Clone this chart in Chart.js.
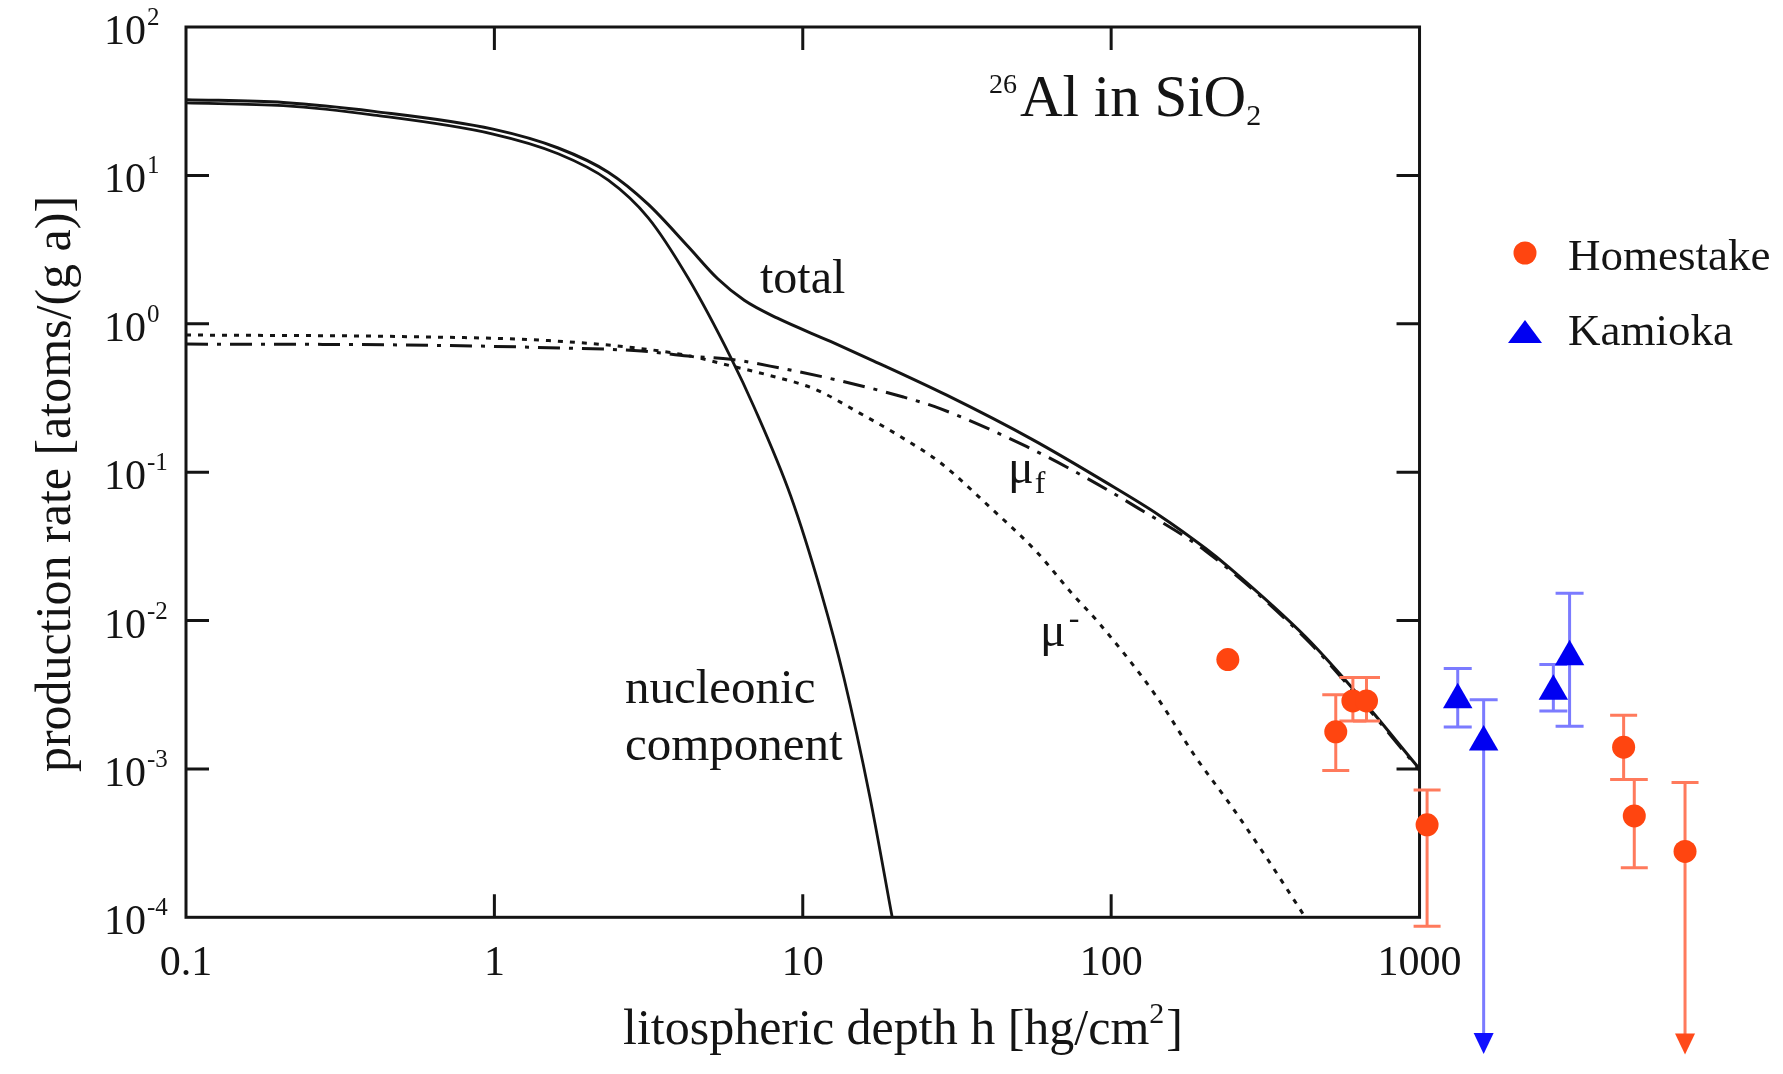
<!DOCTYPE html>
<html>
<head>
<meta charset="utf-8">
<title>26Al in SiO2</title>
<script src="https://cdn.jsdelivr.net/npm/chart.js@4.4.1/dist/chart.umd.min.js"></script>
<style>
html, body { margin: 0; padding: 0; background: #fff; }
#wrap { width: 1783px; height: 1074px; }
</style>
</head>
<body>
<div id="wrap"><canvas id="myChart" width="1783" height="1074"></canvas></div>
<script>
// axes: litospheric depth [hg/cm2] / production rate [atoms/(g a)]
const depthTicks = [0.1, 1, 10, 100, 1000];
const depthTickLabels = ['0.1', '1', '10', '100', '1000'];
const rateTicks = [1e2, 1e1, 1e0, 1e-1, 1e-2, 1e-3, 1e-4];
const rateTickExp = ['2', '1', '0', '-1', '-2', '-3', '-4'];

// total
const depthTotal = [0.1, 0.207, 0.407, 0.99, 1.61, 2.34, 3.15, 4.24, 5.3, 6.46, 8.28, 12.3, 17.0, 29.3, 55.8, 96.2, 143, 202, 240, 426, 602, 1000];
const rateTotal  = [32.4, 31, 27, 20.5, 15.3, 10.5, 6.4, 3.33, 2.01, 1.44, 1.09, 0.76, 0.561, 0.33, 0.165, 0.0853, 0.0513, 0.0307, 0.0230, 7.8e-3, 3.55e-3, 1.0e-3];

// nucleonic component
const depthNuc = [0.1, 0.207, 0.407, 0.99, 1.61, 2.34, 3.15, 4.24, 5.85, 6.95, 9.14, 11.5, 13.6, 16.5, 19.5];
const rateNuc  = [30.8, 29.5, 25.5, 19.0, 14.0, 9.3, 5.2, 2.05, 0.59, 0.275, 0.069, 0.0152, 4.1e-3, 6.5e-4, 1.0e-4];

// negative muon capture (mu-)
const depthMuNeg = [0.1, 0.5, 1.5, 3.0, 4.24, 5.85, 7.85, 10.9, 15.4, 20.7, 27.9, 40.4, 57.1, 75.1, 91.5, 139.6, 188, 247, 316, 426];
const rateMuNeg  = [0.84, 0.82, 0.77, 0.68, 0.61, 0.52, 0.447, 0.364, 0.248, 0.174, 0.116, 0.0582, 0.0293, 0.0150, 9.57e-3, 3.12e-3, 1.2e-3, 5.5e-4, 2.6e-4, 1.0e-4];

// fast muons (mu_f)
const depthMuF = [0.1, 0.5, 1.5, 3.0, 4.24, 5.85, 8.28, 13.2, 21.2, 27.9, 53.1, 80.9, 123, 202, 426, 602, 1000];
const rateMuF  = [0.73, 0.72, 0.69, 0.655, 0.606, 0.576, 0.507, 0.413, 0.321, 0.268, 0.149, 0.0944, 0.0568, 0.0295, 7.6e-3, 3.45e-3, 0.98e-3];

// Homestake
const homeDepth = [239, 535, 608, 673, 1058, 4590, 4970, 7260];
const homeRate  = [5.46e-3, 1.78e-3, 2.87e-3, 2.87e-3, 4.2e-4, 1.40e-3, 4.82e-4, 2.78e-4];
const homeHi    = [null, 3.16e-3, 4.13e-3, 4.13e-3, 7.2e-4, 2.30e-3, 8.47e-4, 8.1e-4];
const homeLo    = [null, 9.77e-4, 2.10e-3, 2.10e-3, 8.7e-5, 8.5e-4, 2.16e-4, 1.19e-5];
const homeLimit = [false, false, false, false, false, false, false, true];

// Kamioka
const kamDepth = [1330, 1614, 2716, 3066];
const kamRate  = [2.92e-3, 1.52e-3, 3.34e-3, 5.70e-3];
const kamHi    = [4.75e-3, 2.93e-3, 5.06e-3, 1.53e-2];
const kamLo    = [1.92e-3, 1.2e-5, 2.46e-3, 1.94e-3];
const kamLimit = [false, true, false, false];

// layout: plot frame in pixels, canvas area extends past it for the data points
const W = 1783, H = 1074;
const FRAME = {left: 186, right: 1425, top: 27, bottom: 932};
const AREA_RIGHT = 1773;
const xDec = (FRAME.right - FRAME.left) / 4;
const yDec = (FRAME.bottom - FRAME.top) / 6;
const X_MAX = Math.pow(10, -1 + (AREA_RIGHT - FRAME.left) / xDec);
const Y_MIN = Math.pow(10, 2 - (H - FRAME.top) / yDec);
const TICK = 23;
const INK = '#141414';

function pts(xs, ys) { return xs.map((v, i) => ({x: v, y: ys[i]})); }
function font(s) { return s + 'px "Liberation Serif", "Times New Roman", serif'; }

// draws text runs (for super/subscripts) starting at x on a baseline
function drawRuns(ctx, parts, x, y, align) {
    let w = 0;
    parts.forEach(p => { ctx.font = font(p.s); w += ctx.measureText(p.t).width + (p.gap || 0); });
    let cx = x;
    if (align === 'center') cx = x - w / 2;
    ctx.textAlign = 'left';
    ctx.textBaseline = 'alphabetic';
    parts.forEach(p => {
        ctx.font = font(p.s);
        cx += (p.gap || 0);
        ctx.fillText(p.t, cx, y + (p.dy || 0));
        cx += ctx.measureText(p.t).width;
    });
}

const framePlugin = {
    id: 'frame',
    beforeDatasetsDraw(chart) {
        const {ctx, scales: {x, y}} = chart;
        const l = x.getPixelForValue(depthTicks[0]);
        const r = x.getPixelForValue(depthTicks[depthTicks.length - 1]);
        const t = y.getPixelForValue(rateTicks[0]);
        const b = y.getPixelForValue(rateTicks[rateTicks.length - 1]);
        ctx.save();
        ctx.strokeStyle = INK;
        ctx.lineWidth = 3;
        ctx.strokeRect(l, t, r - l, b - t);
        ctx.beginPath();
        depthTicks.slice(1, -1).forEach(v => {
            const px = x.getPixelForValue(v);
            ctx.moveTo(px, b); ctx.lineTo(px, b - TICK);
            ctx.moveTo(px, t); ctx.lineTo(px, t + TICK);
        });
        rateTicks.slice(1, -1).forEach(v => {
            const py = y.getPixelForValue(v);
            ctx.moveTo(l, py); ctx.lineTo(l + TICK, py);
            ctx.moveTo(r, py); ctx.lineTo(r - TICK, py);
        });
        ctx.stroke();
        ctx.restore();
    }
};

const errorBarPlugin = {
    id: 'errorBars',
    beforeDatasetDraw(chart, args) {
        const ds = chart.data.datasets[args.index];
        const eb = ds.errorBars;
        if (!eb) return;
        const {ctx, scales: {x, y}} = chart;
        ctx.save();
        ds.data.forEach((p, i) => {
            if (eb.hi[i] == null) return;
            const px = x.getPixelForValue(p.x);
            const yh = y.getPixelForValue(eb.hi[i]);
            const yl = y.getPixelForValue(eb.lo[i]);
            ctx.strokeStyle = eb.color;
            ctx.lineWidth = 3;
            ctx.beginPath();
            ctx.moveTo(px, yh);
            ctx.lineTo(px, eb.limit[i] ? yl - 18 : yl);
            ctx.moveTo(px - eb.cap, yh); ctx.lineTo(px + eb.cap, yh);
            if (!eb.limit[i]) { ctx.moveTo(px - eb.cap, yl); ctx.lineTo(px + eb.cap, yl); }
            ctx.stroke();
            if (eb.limit[i]) {
                ctx.fillStyle = eb.arrow;
                ctx.beginPath();
                ctx.moveTo(px, yl);
                ctx.lineTo(px - 10, yl - 21);
                ctx.lineTo(px + 10, yl - 21);
                ctx.closePath();
                ctx.fill();
            }
        });
        ctx.restore();
    }
};

const textPlugin = {
    id: 'texts',
    afterDraw(chart) {
        const {ctx, scales: {x, y}} = chart;
        ctx.save();
        ctx.fillStyle = INK;

        // tick labels
        rateTicks.forEach((v, i) => {
            const py = y.getPixelForValue(v);
            drawRuns(ctx, [{t: '10', s: 42}, {t: rateTickExp[i], s: 25, dy: -19, gap: 1}], 104, py + 17);
        });
        depthTicks.forEach((v, i) => {
            const px = x.getPixelForValue(v);
            drawRuns(ctx, [{t: depthTickLabels[i], s: 42}], px, 975, 'center');
        });

        // axis titles
        drawRuns(ctx, [{t: 'litospheric depth h [hg/cm', s: 50}, {t: '2', s: 30, dy: -21}, {t: ']', s: 50, gap: 2}], 903, 1044, 'center');
        ctx.save();
        ctx.translate(70, 484);
        ctx.rotate(-Math.PI / 2);
        drawRuns(ctx, [{t: 'production rate [atoms/(g a)]', s: 50}], 0, 0, 'center');
        ctx.restore();

        // title and curve labels
        drawRuns(ctx, [{t: '26', s: 28, dy: -23}, {t: 'Al in SiO', s: 59, gap: 3}, {t: '2', s: 30, dy: 9}], 989, 116);
        drawRuns(ctx, [{t: 'total', s: 48}], 760, 293);
        drawRuns(ctx, [{t: 'nucleonic', s: 49}], 625, 703);
        drawRuns(ctx, [{t: 'component', s: 49}], 625, 760);
        drawRuns(ctx, [{t: 'μ', s: 48}, {t: 'f', s: 32, dy: 10, gap: 1}], 1008, 483);
        drawRuns(ctx, [{t: 'μ', s: 48}, {t: '-', s: 32, dy: -18, gap: 3}], 1040, 646);

        // legend
        const items = chart.data.datasets.filter(d => d.errorBars);
        const legendY = [253, 332];
        const legendBase = [270, 345];
        items.forEach((d, i) => {
            const cy = legendY[i];
            ctx.fillStyle = d.pointBackgroundColor;
            ctx.beginPath();
            if (d.pointStyle === 'triangle') {
                ctx.moveTo(1525, cy - 12);
                ctx.lineTo(1508, cy + 11);
                ctx.lineTo(1542, cy + 11);
                ctx.closePath();
            } else {
                ctx.arc(1525, cy, 11.5, 0, Math.PI * 2);
            }
            ctx.fill();
            ctx.fillStyle = INK;
            drawRuns(ctx, [{t: d.label, s: 45}], 1568, legendBase[i]);
        });
        ctx.restore();
    }
};

const ctx = document.getElementById('myChart').getContext('2d');
const chart = new Chart(ctx, {
    type: 'scatter',
    data: {
        datasets: [{
            label: 'Homestake',
            data: pts(homeDepth, homeRate),
            pointStyle: 'circle',
            pointRadius: 11.5,
            pointBackgroundColor: '#ff4510',
            pointBorderWidth: 0,
            errorBars: {hi: homeHi, lo: homeLo, limit: homeLimit, color: '#ff7a5c', arrow: '#ff4a1a', cap: 13.5}
        }, {
            label: 'Kamioka',
            data: pts(kamDepth, kamRate),
            pointStyle: 'triangle',
            pointRadius: 17,
            pointBackgroundColor: '#0000f2',
            pointBorderWidth: 0,
            errorBars: {hi: kamHi, lo: kamLo, limit: kamLimit, color: '#7b7bff', arrow: '#1010ff', cap: 14}
        }, {
            type: 'line',
            label: 'total',
            data: pts(depthTotal, rateTotal),
            borderColor: INK,
            borderWidth: 3,
            pointRadius: 0,
            cubicInterpolationMode: 'monotone'
        }, {
            type: 'line',
            label: 'nucleonic component',
            data: pts(depthNuc, rateNuc),
            borderColor: INK,
            borderWidth: 2.8,
            pointRadius: 0,
            cubicInterpolationMode: 'monotone'
        }, {
            type: 'line',
            label: 'mu-',
            data: pts(depthMuNeg, rateMuNeg),
            borderColor: INK,
            borderWidth: 3,
            borderDash: [5, 7],
            pointRadius: 0,
            cubicInterpolationMode: 'monotone'
        }, {
            type: 'line',
            label: 'mu_f',
            data: pts(depthMuF, rateMuF),
            borderColor: INK,
            borderWidth: 3,
            borderDash: [22, 9, 4, 9],
            pointRadius: 0,
            cubicInterpolationMode: 'monotone'
        }]
    },
    options: {
        responsive: false,
        animation: false,
        events: [],
        layout: {padding: {left: FRAME.left, top: FRAME.top, right: W - AREA_RIGHT, bottom: 0}},
        plugins: {legend: {display: false}, tooltip: {enabled: false}},
        scales: {
            x: {type: 'logarithmic', min: depthTicks[0], max: X_MAX, display: false},
            y: {type: 'logarithmic', min: Y_MIN, max: rateTicks[0], display: false}
        }
    },
    plugins: [framePlugin, errorBarPlugin, textPlugin]
});
</script>
</body>
</html>
